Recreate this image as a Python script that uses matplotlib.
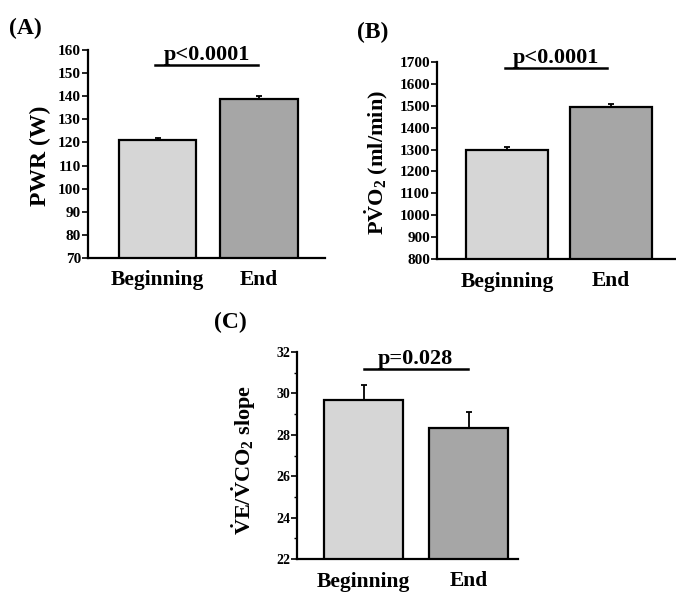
import matplotlib
matplotlib.use("Agg")
import matplotlib.pyplot as plt
from matplotlib.ticker import MultipleLocator

plt.rcParams['font.family'] = ['Liberation Serif', 'DejaVu Serif']
plt.rcParams['font.weight'] = 'bold'
plt.rcParams['mathtext.fontset'] = 'custom'
plt.rcParams['mathtext.rm'] = 'Liberation Serif:bold'
plt.rcParams['mathtext.it'] = 'Liberation Serif:italic:bold'
plt.rcParams['mathtext.bf'] = 'Liberation Serif:bold'

categories = ["Beginning", "End"]
pwr_values = [121, 139]
pwr_err = [1, 1]
pvo2_values = [1300, 1495]
pvo2_err = [10, 12]
slope_values = [29.7, 28.35]
slope_err = [0.7, 0.75]

pwr_ticks = list(range(70, 161, 10))
pvo2_ticks = list(range(800, 1701, 100))
slope_ticks = [22, 24, 26, 28, 30, 32]

bar_colors = ["#d6d6d6", "#a6a6a6"]

W, H = 676, 592
fig = plt.figure(figsize=(W / 100, H / 100), dpi=100)


def px_axes(left, right, top, bottom):
    return fig.add_axes([left / W, 1 - bottom / H, (right - left) / W, (bottom - top) / H])


def style(ax, ticks, minor=None, tsize=11):
    for s in ("top", "right"):
        ax.spines[s].set_visible(False)
    for s in ("left", "bottom"):
        ax.spines[s].set_linewidth(1.6)
    ax.set_yticks(ticks)
    ax.set_ylim(ticks[0], ticks[-1])
    if minor:
        ax.yaxis.set_minor_locator(MultipleLocator(minor))
        ax.tick_params(axis="y", which="minor", length=2.5, width=1.0)
    ax.tick_params(axis="y", which="major", length=4, width=1.2, pad=1, labelsize=tsize)
    ax.tick_params(axis="x", length=0, labelsize=15.5, pad=9)
    for lab in ax.get_yticklabels() + ax.get_xticklabels():
        lab.set_fontweight("bold")


def draw(ax, vals, errs, width):
    x = [0, 1]
    ax.bar(x, vals, width=width, color=bar_colors, edgecolor="black", linewidth=1.6, zorder=2)
    ax.errorbar(x, vals, yerr=[[0, 0], errs], fmt="none", ecolor="black",
                elinewidth=1.3, capsize=2, capthick=1.3, zorder=3)
    ax.set_xticks(x)
    ax.set_xticklabels(categories)


def sig(ax, x0, x1, y, text, size=16):
    ax.plot([x0, x1], [y, y], color="black", lw=1.8, clip_on=False)
    ax.text((x0 + x1) / 2, y, text, ha="center", va="bottom", fontsize=size,
            fontweight="bold", clip_on=False)


# Panel A
axA = px_axes(88, 325, 50, 258)
draw(axA, pwr_values, pwr_err, 0.76)
axA.set_xlim(-0.685, 1.65)
style(axA, pwr_ticks)
axA.set_ylabel("PWR (W)", fontsize=17, fontweight="bold")
axA.yaxis.set_label_coords(-0.155, 0.49)
sig(axA, -0.02, 0.99, 153.3, "p<0.0001")

# Panel B
axB = px_axes(437, 676, 62, 259)
draw(axB, pvo2_values, pvo2_err, 0.78)
axB.set_xlim(-0.673, 1.625)
style(axB, pvo2_ticks)
axB.set_ylabel(r"P$\dot{\mathrm{V}}$O$_2$ (ml/min)", fontsize=16, fontweight="bold")
axB.yaxis.set_label_coords(-0.195, 0.49)
sig(axB, -0.02, 0.96, 1672, "p<0.0001")

# Panel C
axC = px_axes(297, 518, 352, 559)
draw(axC, slope_values, slope_err, 0.75)
axC.set_xlim(-0.633, 1.47)
style(axC, slope_ticks, minor=1, tsize=10)
axC.set_ylabel(r"$\dot{\mathrm{V}}$E/$\dot{\mathrm{V}}$CO$_2$ slope", fontsize=16, fontweight="bold")
axC.yaxis.set_label_coords(-0.175, 0.48)
sig(axC, 0.0, 0.99, 31.18, "p=0.028")

fig.text(25 / W, 1 - 28 / H, "(A)", ha="center", va="center", fontsize=17, fontweight="bold")
fig.text(373 / W, 1 - 32 / H, "(B)", ha="center", va="center", fontsize=17, fontweight="bold")
fig.text(230 / W, 1 - 322 / H, "(C)", ha="center", va="center", fontsize=17, fontweight="bold")

fig.savefig("out.png", dpi=100)
